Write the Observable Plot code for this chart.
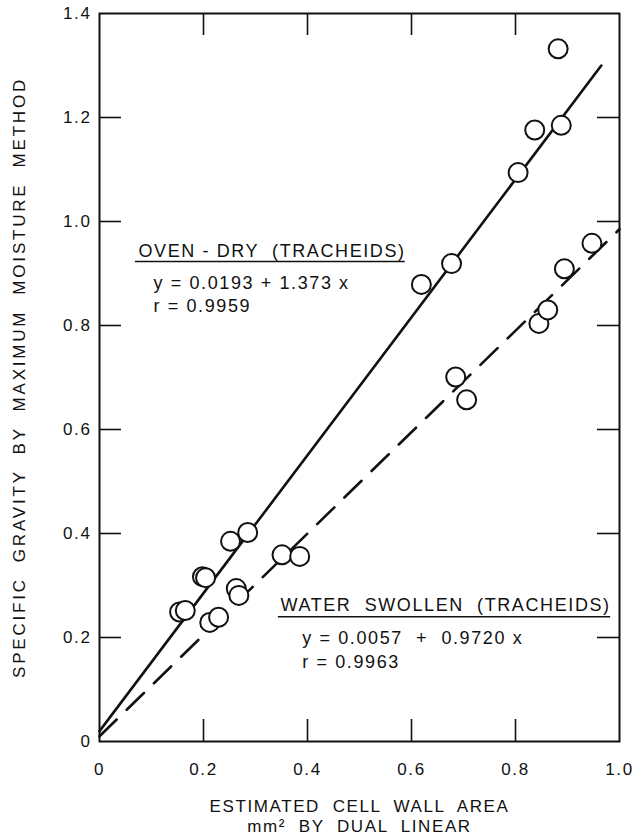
<!DOCTYPE html>
<html><head><meta charset="utf-8">
<script src="https://cdn.jsdelivr.net/npm/d3@7"></script>
<script src="https://cdn.jsdelivr.net/npm/@observablehq/plot@0.6"></script>
<style>
html,body{margin:0;padding:0;background:#fff;}
#chart svg{display:block;}
</style></head><body><div id="chart"></div>
<script>
// ---- data ----
const ovenDryX = [0.154, 0.165, 0.198, 0.204, 0.252, 0.285, 0.619, 0.677, 0.805, 0.837, 0.888, 0.882];
const ovenDryY = [0.249, 0.252, 0.317, 0.315, 0.385, 0.402, 0.879, 0.919, 1.094, 1.176, 1.185, 1.332];
const waterX = [0.212, 0.229, 0.263, 0.268, 0.351, 0.385, 0.685, 0.706, 0.845, 0.862, 0.894, 0.947];
const waterY = [0.229, 0.239, 0.294, 0.281, 0.359, 0.356, 0.701, 0.657, 0.804, 0.830, 0.909, 0.958];
const ovenLineX = [0, 0.965];
const ovenLineY = [0.02, 1.30];
const waterLineX = [0, 1.0];
const waterLineY = [0.01, 0.985];
const xTicks = [0, 0.2, 0.4, 0.6, 0.8, 1.0];
const xTickLabels = ["0", "0.2", "0.4", "0.6", "0.8", "1.0"];
const yTicks = [0, 0.2, 0.4, 0.6, 0.8, 1.0, 1.2, 1.4];
const yTickLabels = ["0", "0.2", "0.4", "0.6", "0.8", "1.0", "1.2", "1.4"];
const xTitle = ["ESTIMATED  CELL  WALL  AREA", "mm²  BY  DUAL  LINEAR"];
const yTitle = ["SPECIFIC  GRAVITY  BY  MAXIMUM  MOISTURE  METHOD"];
const ovenLabel = ["OVEN - DRY  (TRACHEIDS)", "y = 0.0193 + 1.373 x", "r = 0.9959"];
const waterLabel = ["WATER  SWOLLEN  (TRACHEIDS)", "y = 0.0057  +  0.9720 x", "r = 0.9963"];

// ---- build tables ----
const ovenPts = ovenDryX.map((x, i) => ({x, y: ovenDryY[i]}));
const waterPts = waterX.map((x, i) => ({x, y: waterY[i]}));
const ovenLine = ovenLineX.map((x, i) => ({x, y: ovenLineY[i]}));
const waterLine = waterLineX.map((x, i) => ({x, y: waterLineY[i]}));
const innerX = xTicks.slice(1, -1);
const innerY = yTicks.slice(1, -1);
const tl = 22 / 520; // inward tick length in data units

const FONT = "Liberation Sans, Arial, sans-serif";
const ink = "#111";

const chart = Plot.plot({
  width: 635,
  height: 836,
  marginLeft: 99,
  marginRight: 16,
  marginTop: 13,
  marginBottom: 95,
  x: {domain: [0, 1]},
  y: {domain: [0, 1.4]},
  style: {fontFamily: FONT, color: ink, background: "#fff", overflow: "visible"},
  marks: [
    Plot.frame({stroke: ink, strokeWidth: 2}),
    // inward ticks on all four sides
    Plot.ruleX(innerX, {x: d => d, y1: 0, y2: tl, stroke: ink, strokeWidth: 1.6}),
    Plot.ruleX(innerX, {x: d => d, y1: 1.4 - tl, y2: 1.4, stroke: ink, strokeWidth: 1.6}),
    Plot.ruleY(innerY, {y: d => d, x1: 0, x2: tl, stroke: ink, strokeWidth: 1.6}),
    Plot.ruleY(innerY, {y: d => d, x1: 1 - tl, x2: 1, stroke: ink, strokeWidth: 1.6}),
    // tick labels
    Plot.axisX(xTicks, {anchor: "bottom", tickSize: 0, tickPadding: 21, fontSize: 17,
      tickFormat: d => xTickLabels[xTicks.indexOf(d)], label: null, fill: ink}),
    Plot.axisY(yTicks, {anchor: "left", tickSize: 0, tickPadding: 8, fontSize: 17,
      tickFormat: d => yTickLabels[yTicks.indexOf(d)], label: null, fill: ink}),
    // regression lines
    Plot.line(ovenLine, {x: "x", y: "y", stroke: ink, strokeWidth: 2.6}),
    Plot.line(waterLine, {x: "x", y: "y", stroke: ink, strokeWidth: 2.6, strokeDasharray: "24,14"}),
    // points
    Plot.dot(ovenPts, {x: "x", y: "y", r: 9.5, stroke: ink, strokeWidth: 2, fill: "white"}),
    Plot.dot(waterPts, {x: "x", y: "y", r: 9.5, stroke: ink, strokeWidth: 2, fill: "white"}),
    // oven-dry annotation
    Plot.text([ovenLabel[0]], {x: 0.075, y: 0.931, text: d => d, textAnchor: "start", lineAnchor: "bottom", fontSize: 18, fill: ink}),
    Plot.ruleY([0.923], {y: d => d, x1: 0.069, x2: 0.588, stroke: ink, strokeWidth: 1.6}),
    Plot.text([ovenLabel[1]], {x: 0.104, y: 0.871, text: d => d, textAnchor: "start", lineAnchor: "bottom", fontSize: 18, fill: ink}),
    Plot.text([ovenLabel[2]], {x: 0.104, y: 0.826, text: d => d, textAnchor: "start", lineAnchor: "bottom", fontSize: 18, fill: ink}),
    // water swollen annotation
    Plot.text([waterLabel[0]], {x: 0.348, y: 0.2506, text: d => d, textAnchor: "start", lineAnchor: "bottom", fontSize: 18, fill: ink}),
    Plot.ruleY([0.240], {y: d => d, x1: 0.344, x2: 0.983, stroke: ink, strokeWidth: 1.6}),
    Plot.text([waterLabel[1]], {x: 0.390, y: 0.188, text: d => d, textAnchor: "start", lineAnchor: "bottom", fontSize: 18, fill: ink}),
    Plot.text([waterLabel[2]], {x: 0.390, y: 0.142, text: d => d, textAnchor: "start", lineAnchor: "bottom", fontSize: 18, fill: ink}),
    // axis titles
    Plot.text([xTitle[0]], {frameAnchor: "bottom", text: d => d, textAnchor: "middle", dy: 70, lineAnchor: "bottom", fontSize: 17, fill: ink}),
    Plot.text([xTitle[1]], {frameAnchor: "bottom", text: d => d, textAnchor: "middle", dy: 90, lineAnchor: "bottom", fontSize: 17, fill: ink}),
    Plot.text(yTitle, {frameAnchor: "left", text: d => d, textAnchor: "middle", dx: -80, rotate: -90, lineAnchor: "middle", fontSize: 17, fill: ink})
  ]
});

d3.select(chart).selectAll("text").style("letter-spacing", "1.6px");
d3.select(chart).selectAll("text").filter(function () {
  return this.textContent === yTitle[0];
}).style("letter-spacing", "2.8px");
document.getElementById("chart").appendChild(chart);
</script>
</body></html>
